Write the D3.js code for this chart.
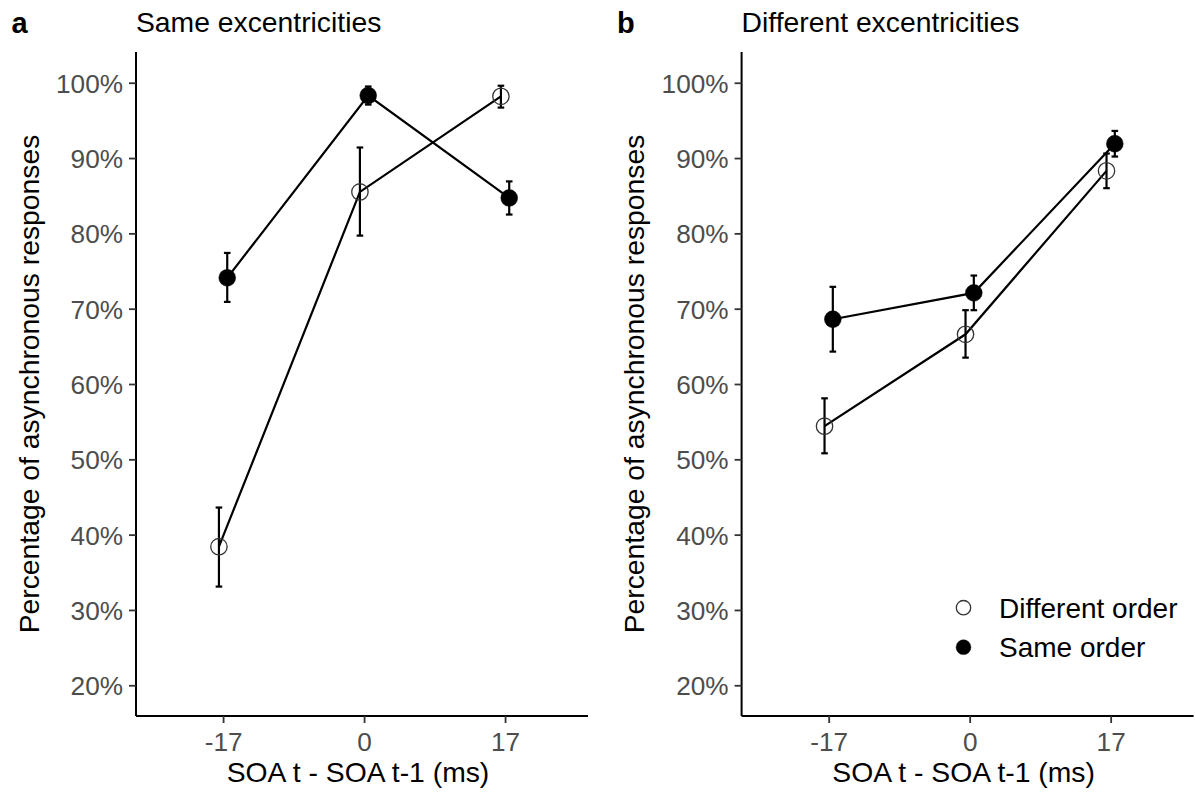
<!DOCTYPE html>
<html>
<head>
<meta charset="utf-8">
<script src="https://cdn.jsdelivr.net/npm/d3@7"></script>
<style>
  html, body { margin: 0; padding: 0; background: #fff; }
  svg { display: block; }
  text { font-family: "Liberation Sans", Arial, Helvetica, sans-serif; }
</style>
</head>
<body>
<svg id="chart" width="1195" height="792"></svg>
<script>
// ---------------- data ----------------
const xTicks = [-17, 0, 17];
const xTickLabels = ["-17", "0", "17"];
const yTicks = [20, 30, 40, 50, 60, 70, 80, 90, 100];
const conditions = ["Different order", "Same order"];
const panelLetters = ["a", "b"];
const panelTitles = ["Same excentricities", "Different excentricities"];
const xTitle = "SOA t - SOA t-1 (ms)";
const yTitle = "Percentage of asynchronous responses";

// Panel a: same excentricities
const sameEccDiffOrderMean = [38.4, 85.5, 98.2];
const sameEccDiffOrderLo   = [33.1, 79.7, 96.7];
const sameEccDiffOrderHi   = [43.6, 91.4, 99.6];
const sameEccSameOrderMean = [74.1, 98.3, 84.7];
const sameEccSameOrderLo   = [70.9, 97.1, 82.5];
const sameEccSameOrderHi   = [77.4, 99.5, 86.9];

// Panel b: different excentricities
const diffEccDiffOrderMean = [54.4, 66.6, 88.3];
const diffEccDiffOrderLo   = [50.8, 63.5, 86.0];
const diffEccDiffOrderHi   = [58.1, 69.8, 90.6];
const diffEccSameOrderMean = [68.6, 72.1, 91.9];
const diffEccSameOrderLo   = [64.3, 69.8, 90.2];
const diffEccSameOrderHi   = [72.9, 74.4, 93.6];

// dodge offset (ms) per condition
const dodge = [-0.5, 0.5];

const panels = [
  { series: [
      { mean: sameEccDiffOrderMean, lo: sameEccDiffOrderLo, hi: sameEccDiffOrderHi },
      { mean: sameEccSameOrderMean, lo: sameEccSameOrderLo, hi: sameEccSameOrderHi } ] },
  { series: [
      { mean: diffEccDiffOrderMean, lo: diffEccDiffOrderLo, hi: diffEccDiffOrderHi },
      { mean: diffEccSameOrderMean, lo: diffEccSameOrderLo, hi: diffEccSameOrderHi } ] }
];

// ---------------- layout ----------------
const svg = d3.select("#chart");
const panelLeft = [136, 741.6];
const panelWidth = 452;
const yTop = 52, yBottom = 716;

const y = d3.scaleLinear().domain([15.92, 104.08]).range([yBottom, yTop]);

const tickFont = 26.2, titleFont = 28.3;

panels.forEach((p, pi) => {
  const x0 = panelLeft[pi];
  const x = d3.scaleLinear().domain([-27.5, 27.0]).range([x0, x0 + panelWidth]);
  const g = svg.append("g");

  // axes
  const yAxis = d3.axisLeft(y).tickValues(yTicks).tickFormat(d => d + "%").tickSize(7).tickPadding(6);
  const ya = g.append("g").attr("transform", `translate(${x0},0)`).call(yAxis);
  const xAxis = d3.axisBottom(x).tickValues(xTicks).tickFormat((d, i) => xTickLabels[i]).tickSize(7).tickPadding(4);
  const xa = g.append("g").attr("transform", `translate(0,${yBottom})`).call(xAxis);
  [ya, xa].forEach(a => {
    a.select(".domain").attr("stroke", "#000").attr("stroke-width", 2).attr("d",
      a === ya ? `M0,${yTop}V${yBottom}` : `M${x0},0H${x0 + panelWidth}`);
    a.selectAll(".tick line").attr("stroke", "#333").attr("stroke-width", 1.8);
    a.selectAll(".tick text").attr("fill", "#4d4d4d").style("font-size", tickFont + "px");
  });
  xa.selectAll(".tick text").attr("dy", "0.92em");
  ya.selectAll(".tick text").attr("dy", "0.36em");

  // axis titles
  g.append("text").attr("x", x0 + 222).attr("y", 782)
    .attr("text-anchor", "middle").style("font-size", titleFont + "px").attr("fill", "#000").text(xTitle);
  g.append("text").attr("transform", `translate(${x0 - 97.5},${(yTop + yBottom) / 2}) rotate(-90)`)
    .attr("text-anchor", "middle").style("font-size", titleFont + "px").attr("fill", "#000").text(yTitle);

  // panel letter & title
  g.append("text").attr("x", x0 - 124.5).attr("y", 33).style("font-size", "29px")
    .style("font-weight", "bold").attr("fill", "#000").text(panelLetters[pi]);
  g.append("text").attr("x", x0).attr("y", 32).style("font-size", titleFont + "px")
    .attr("fill", "#000").text(panelTitles[pi]);

  // lines
  const line = d3.line().x(d => x(d.x)).y(d => y(d.v));
  p.series.forEach((s, si) => {
    const pts = xTicks.map((t, i) => ({ x: t + dodge[si], v: s.mean[i] }));
    g.append("path").datum(pts).attr("d", line).attr("fill", "none")
      .attr("stroke", "#000").attr("stroke-width", 2.2);
  });

  // error bars & points
  p.series.forEach((s, si) => {
    const eb = g.append("g");
    xTicks.forEach((t, i) => {
      const cx = x(t + dodge[si]);
      eb.append("line").attr("x1", cx).attr("x2", cx).attr("y1", y(s.lo[i])).attr("y2", y(s.hi[i]))
        .attr("stroke", "#000").attr("stroke-width", 2.2);
      [s.lo[i], s.hi[i]].forEach(v => {
        eb.append("line").attr("x1", cx - 3.3).attr("x2", cx + 3.3).attr("y1", y(v)).attr("y2", y(v))
          .attr("stroke", "#000").attr("stroke-width", 2.2);
      });
    });
  });
  p.series.forEach((s, si) => {
    g.selectAll(null).data(s.mean).enter().append("circle")
      .attr("cx", (d, i) => x(xTicks[i] + dodge[si])).attr("cy", d => y(d))
      .attr("r", si === 0 ? 8.2 : 8.4)
      .attr("fill", si === 0 ? "none" : "#000")
      .attr("stroke", si === 0 ? "#333" : "#000")
      .attr("stroke-width", si === 0 ? 1.3 : 0.5);
  });
});

// legend (panel b)
const legend = svg.append("g");
conditions.forEach((c, i) => {
  const cy = 607.7 + i * 39.5;
  legend.append("circle").attr("cx", 963.5).attr("cy", cy).attr("r", i === 0 ? 7.2 : 7.4)
    .attr("fill", i === 0 ? "none" : "#000").attr("stroke", i === 0 ? "#333" : "#000")
    .attr("stroke-width", i === 0 ? 1.3 : 0.5);
  legend.append("text").attr("x", 999).attr("y", cy).attr("dy", "0.36em")
    .style("font-size", "28px").attr("fill", "#000").text(c);
});
</script>
</body>
</html>
